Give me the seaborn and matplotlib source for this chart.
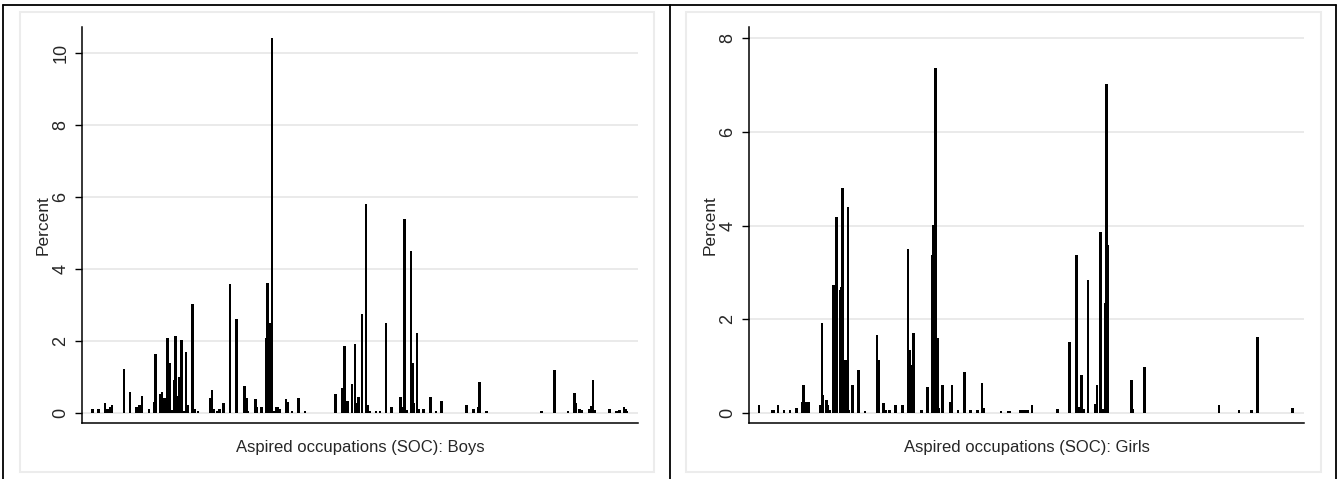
import numpy as np
import pandas as pd
import matplotlib
matplotlib.use("Agg")
import matplotlib.pyplot as plt
from matplotlib.patches import Rectangle
from matplotlib.lines import Line2D
import seaborn as sns

# aspired occupation codes (SOC) and percent of respondents
boys_soc = [1125, 1217, 1313, 1348, 1389, 1420, 1603, 1694, 1786, 1812, 1836, 1858,
            1878, 1984, 2061, 2081, 2157, 2183, 2203, 2224, 2244, 2264, 2305, 2335,
            2366, 2392, 2407, 2447, 2477, 2508, 2549, 2569, 2651, 2682, 2732, 2926,
            2946, 2966, 3027, 3057, 3124, 3220, 3323, 3439, 3475, 3495, 3613, 3633,
            3704, 3775, 3790, 3811, 3831, 3861, 3892, 3933, 3953, 3983, 4075, 4095,
            4167, 4269, 4365, 4834, 4930, 4965, 4991, 5011, 5082, 5128, 5154, 5184,
            5235, 5296, 5316, 5357, 5449, 5509, 5601, 5688, 5825, 5856, 5886, 5917,
            5983, 6002, 6028, 6074, 6105, 6170, 6283, 6364, 6451, 6833, 6933, 7010,
            7025, 7132, 7977, 8169, 8378, 8481, 8496, 8551, 8587, 8704, 8734, 8760,
            8780, 9015, 9122, 9161, 9233, 9263, 9283]
boys_pct = [0.11, 0.11, 0.28, 0.11, 0.17, 0.23, 1.24, 0.59, 0.17, 0.17, 0.23, 0.23,
            0.48, 0.11, 0.32, 1.66, 0.54, 0.59, 0.37, 0.43, 0.11, 2.08, 1.39, 0.08,
            0.92, 2.14, 0.48, 1.02, 2.03, 0.06, 1.71, 0.22, 3.03, 0.11, 0.06, 0.43,
            0.65, 0.11, 0.06, 0.11, 0.28, 3.58, 2.61, 0.76, 0.43, 0.06, 0.39, 0.17,
            0.17, 2.08, 3.62, 2.51, 2.50, 10.42, 0.05, 0.17, 0.17, 0.11, 0.39, 0.32,
            0.06, 0.43, 0.06, 0.54, 0.69, 1.87, 0.32, 0.35, 0.81, 1.92, 0.28, 0.46,
            2.75, 5.80, 0.23, 0.06, 0.05, 0.05, 2.50, 0.17, 0.44, 0.17, 5.40, 0.10,
            4.50, 1.39, 0.28, 2.24, 0.12, 0.12, 0.44, 0.06, 0.34, 0.22, 0.12, 0.17,
            0.86, 0.06, 0.06, 1.19, 0.06, 0.56, 0.28, 0.12, 0.09, 0.12, 0.19, 0.92,
            0.09, 0.12, 0.06, 0.09, 0.17, 0.12, 0.06]

girls_soc = [1115, 1318, 1344, 1409, 1496, 1588, 1690, 1771, 1797, 1821, 1852, 1878,
             2050, 2076, 2091, 2148, 2172, 2198, 2255, 2274, 2300, 2351, 2370, 2392,
             2438, 2473, 2493, 2544, 2636, 2732, 2920, 2941, 3017, 3053, 3109, 3205,
             3307, 3393, 3419, 3460, 3480, 3597, 3689, 3770, 3785, 3811, 3842, 3866,
             3918, 4045, 4064, 4156, 4254, 4350, 4452, 4528, 4544, 4818, 4919, 4956,
             5113, 5143, 5174, 5220, 5291, 5682, 5865, 5967, 5993, 6013, 6048, 6074,
             6146, 6253, 6283, 6338, 6364, 6410, 6430, 6445, 6811, 6826, 7005, 8145,
             8455, 8648, 8734, 9268]
girls_pct = [0.18, 0.07, 0.07, 0.18, 0.07, 0.07, 0.12, 0.23, 0.60, 0.23, 0.23, 0.23,
             0.18, 1.93, 0.39, 0.28, 0.18, 0.07, 2.73, 0.57, 4.19, 2.62, 2.70, 4.81,
             1.14, 4.40, 0.07, 0.60, 0.92, 0.05, 1.67, 1.14, 0.21, 0.07, 0.07, 0.18,
             0.18, 3.50, 1.35, 1.03, 1.72, 0.07, 0.55, 3.38, 4.02, 7.35, 1.60, 0.11,
             0.60, 0.23, 0.60, 0.07, 0.87, 0.07, 0.07, 0.65, 0.11, 0.05, 0.05, 0.05,
             0.06, 0.06, 0.06, 0.06, 0.17, 0.10, 1.51, 3.38, 0.10, 0.13, 0.82, 0.10,
             2.85, 0.20, 0.60, 3.86, 0.10, 2.35, 7.02, 3.58, 0.71, 0.10, 0.98, 0.17,
             0.07, 0.07, 1.62, 0.11]

boys_yticks = [0, 2, 4, 6, 8, 10]
girls_yticks = [0, 2, 4, 6, 8]

sns.set_style("white")
plt.rcParams["font.family"] = ["Liberation Sans", "DejaVu Sans"]

fig = plt.figure(figsize=(13.41, 4.79), dpi=100)
W, H = 1341, 479


def px_box(x0, y0, x1, y1):
    # pixel box (top-left origin) -> figure fraction rect
    return [x0 / W, 1 - y1 / H, (x1 - x0) / W, (y1 - y0) / H]


def draw_panel(rect, soc, pct, yticks, ylim, label):
    ax = fig.add_axes(rect)
    df = pd.DataFrame({"soc": soc, "pct": pct})
    min_gap = np.diff(np.unique(df["soc"])).min()
    sns.barplot(data=df, x="soc", y="pct", native_scale=True, errorbar=None,
                color="black", saturation=1, linewidth=0,
                width=38 / min_gap, ax=ax)
    ax.set_xlim(962, 9447)
    ax.set_ylim(*ylim)
    ax.set_xticks([])
    ax.set_yticks(yticks)
    ax.set_yticklabels([str(t) for t in yticks], rotation=90, va="center")
    ax.tick_params(axis="y", direction="out", length=5, width=1, color="black",
                   labelsize=13, pad=4, left=True)
    ax.yaxis.grid(True, color="#e6e6e6", linewidth=1.2)
    ax.set_axisbelow(True)
    for s in ["top", "right"]:
        ax.spines[s].set_visible(False)
    for s in ["left", "bottom"]:
        ax.spines[s].set_color("black")
        ax.spines[s].set_linewidth(1.1)
    ax.set_ylabel("Percent", fontsize=12.5, labelpad=1)
    ax.set_xlabel(label, fontsize=12, labelpad=12)
    return ax


draw_panel(px_box(82, 27, 638, 423), boys_soc, boys_pct, boys_yticks,
           (-0.27, 10.73), "Aspired occupations (SOC): Boys")
draw_panel(px_box(749, 27, 1304, 423), girls_soc, girls_pct, girls_yticks,
           (-0.207, 8.23), "Aspired occupations (SOC): Girls")

# light grey graph-region boxes
for x0, x1 in [(20, 654), (686, 1321)]:
    r = px_box(x0, 12, x1, 472)
    fig.add_artist(Rectangle((r[0], r[1]), r[2], r[3], transform=fig.transFigure,
                             fill=False, edgecolor="#ececec", linewidth=1.5))

# outer black frame and divider
frame = [((3, 3), (5, 479)), ((1336, 1336), (5, 479)), ((3, 1336), (5, 5)),
         ((670, 670), (5, 479))]
for xs, ys in frame:
    fig.add_artist(Line2D([x / W for x in xs], [1 - y / H for y in ys],
                          transform=fig.transFigure, color="black", linewidth=1.3))

fig.savefig("out.png", dpi=100)
